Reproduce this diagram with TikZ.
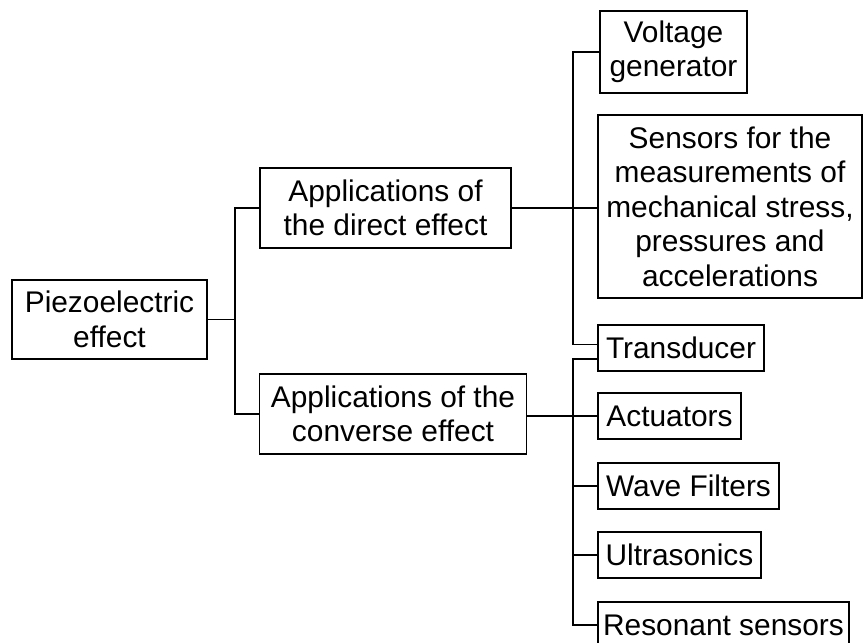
\documentclass[tikz,border=0pt]{standalone}
\usepackage{fontspec}
\setmainfont{Liberation Sans}
\begin{document}
\begin{tikzpicture}[
  x=0.02cm, y=-0.02cm,
  box/.style={draw, line width=1.1pt, align=center, inner sep=2pt,
    font=\fontsize{17}{19.6}\selectfont},
  every path/.style={line width=1.1pt}
]
\useasboundingbox (0,0) rectangle (863,643);
\node[box, minimum width=195*0.02cm, minimum height=79*0.02cm] (piezo) at (109.5,319.5) {Piezoelectric\\effect};
\node[box, minimum width=251*0.02cm, minimum height=80*0.02cm] (direct) at (385.5,208) {Applications of\\the direct effect};
\node[box, minimum width=267*0.02cm, minimum height=80*0.02cm] (converse) at (393,414) {Applications of the\\converse effect};
\node[box, minimum width=147*0.02cm, minimum height=82*0.02cm] (voltage) at (673.5,52) {Voltage\\generator};
\node[box, minimum width=264*0.02cm, minimum height=183*0.02cm] (sensors) at (730,206.5) {Sensors for the\\measurements of\\mechanical stress,\\pressures and\\accelerations};
\node[box, minimum width=166*0.02cm, minimum height=46*0.02cm] (transducer) at (681,348) {Transducer};
\node[box, minimum width=143*0.02cm, minimum height=46*0.02cm] (actuators) at (669.5,416) {Actuators};
\node[box, minimum width=181*0.02cm, minimum height=46*0.02cm] (wave) at (688.5,486) {Wave Filters};
\node[box, minimum width=163*0.02cm, minimum height=46*0.02cm] (ultra) at (679.5,555) {Ultrasonics};
\node[box, minimum width=251*0.02cm, minimum height=46*0.02cm] (resonant) at (723.5,625) {Resonant sensors};
% branch points
\coordinate (jp) at (235,319.5);
\coordinate (jd) at (573,208);
\coordinate (jc) at (573,416);
\draw (piezo) -- (jp);
\draw (jp) |- (direct);
\draw (jp) |- (converse);
\draw (direct) -- (jd);
\draw (jd) |- (voltage);
\draw (jd) -- (sensors.west |- jd);
\draw (jd) |- ([yshift=2pt]transducer.west);
\draw (converse.east |- jc) -- (jc) -- (actuators);
\draw (jc) |- ([yshift=-6pt]transducer.west);
\draw (jc) |- (wave);
\draw (jc) |- (ultra);
\draw (jc) |- (resonant);
\end{tikzpicture}
\end{document}
